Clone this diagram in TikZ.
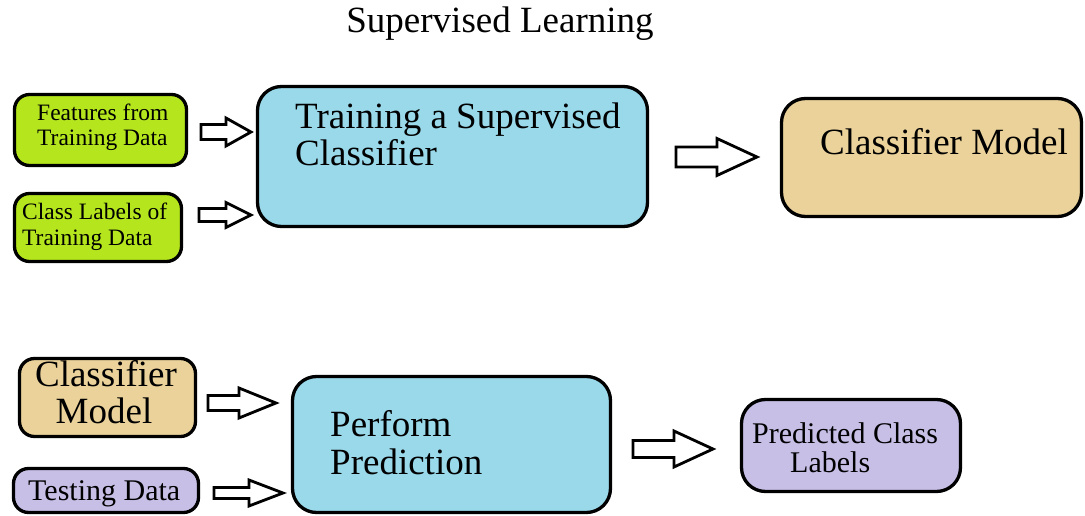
\documentclass[tikz,border=0pt]{standalone}
\usepackage{fontspec}
\setmainfont{Liberation Serif}
\usetikzlibrary{calc}

\definecolor{limefill}{HTML}{B5E61D}
\definecolor{skyfill}{HTML}{99D9EA}
\definecolor{tanfill}{HTML}{EAD29A}
\definecolor{lavfill}{HTML}{C8BFE7}

\tikzset{
  box/.style={draw=black, line width=3.3pt, inner sep=0pt},
  smallbox/.style={box, rounded corners=15pt},
  bigbox/.style={box, rounded corners=24pt},
  arrowline/.style={draw=black, fill=white, line width=2.8pt, line join=miter},
  bigtxt/.style={inner sep=0pt, font=\fontsize{37}{38}\selectfont},
  midtxt/.style={inner sep=0pt, font=\fontsize{30}{30}\selectfont},
  smalltxt/.style={inner sep=0pt, font=\fontsize{23.5}{24}\selectfont},
}

% hollow block arrow: start, end, shaft half-height, head half-height, head length
\newcommand{\fatarrow}[5]{%
  \draw[arrowline] let \p1=(#1), \p2=(#2) in
    (\x1,\y1+#3) -- (\x2-#5,\y1+#3) -- (\x2-#5,\y1+#4) -- (\x2,\y1)
    -- (\x2-#5,\y1-#4) -- (\x2-#5,\y1-#3) -- (\x1,\y1-#3) -- cycle;}

\begin{document}
\begin{tikzpicture}[x=1pt, y=-1pt]
\useasboundingbox (0,0) rectangle (1085,516);

% title
\node[bigtxt, anchor=base, font=\fontsize{37}{38}\selectfont] (title) at (500,33) {Supervised Learning};

% ---- training stage ----
\node[smallbox, fill=limefill, minimum width=172pt, minimum height=71pt] (feat) at (100.5,130) {};
\node[smalltxt, anchor=base west] (featA) at (37,121) {Features from};
\node[smalltxt, anchor=base west] (featB) at (37,146) {Training Data};

\node[smallbox, fill=limefill, minimum width=167pt, minimum height=68pt] (lab) at (98,227.5) {};
\node[smalltxt, anchor=base west] (labA) at (22,219) {Class Labels of};
\node[smalltxt, anchor=base west] (labB) at (22,245) {Training Data};

\node[bigbox, fill=skyfill, minimum width=390pt, minimum height=140pt] (train) at (452.5,156.5) {};
\node[bigtxt, anchor=base west] (trainA) at (295,129) {Training a Supervised};
\node[bigtxt, anchor=base west] (trainB) at (295,166) {Classifier};

\node[bigbox, fill=tanfill, minimum width=300pt, minimum height=118pt] (model) at (931.5,157.5) {};
\node[bigtxt, anchor=base west] (modelA) at (820,155) {Classifier Model};

% ---- prediction stage ----
\node[smallbox, fill=tanfill, minimum width=176pt, minimum height=78pt] (cm) at (107.5,397.5) {};
\node[bigtxt, anchor=base] (cmA) at (106,386) {Classifier};
\node[bigtxt, anchor=base] (cmB) at (104,423) {Model};

\node[smallbox, fill=lavfill, minimum width=185pt, minimum height=44pt] (test) at (106,490.5) {};
\node[midtxt, anchor=base west] (testA) at (28,500) {Testing Data};

\node[bigbox, fill=skyfill, minimum width=318pt, minimum height=136pt] (perf) at (451.5,444.5) {};
\node[bigtxt, anchor=base west] (perfA) at (330,436) {Perform};
\node[bigtxt, anchor=base west] (perfB) at (330,474) {Prediction};

\node[bigbox, fill=lavfill, minimum width=219pt, minimum height=92pt] (pred) at (851,445.5) {};
\node[midtxt, anchor=base west] (predA) at (752,443) {Predicted Class};
\node[midtxt, anchor=base west] (predB) at (790,472) {Labels};

% ---- arrow end points ----
\coordinate (a1s) at (201,132);  \coordinate (a1e) at (251,132);
\coordinate (a2s) at (199,215);  \coordinate (a2e) at (251,215);
\coordinate (a3s) at (676,157);  \coordinate (a3e) at (757,157);
\coordinate (a4s) at (208,403);  \coordinate (a4e) at (276,403);
\coordinate (a5s) at (214,493);  \coordinate (a5e) at (283,493);
\coordinate (a6s) at (633,449);  \coordinate (a6e) at (713,449);

\fatarrow{a1s}{a1e}{7.5pt}{14pt}{25pt}
\fatarrow{a2s}{a2e}{6.5pt}{12.5pt}{25pt}
\fatarrow{a3s}{a3e}{10pt}{18.5pt}{40pt}
\fatarrow{a4s}{a4e}{7.5pt}{15pt}{37pt}
\fatarrow{a5s}{a5e}{5.5pt}{13pt}{34pt}
\fatarrow{a6s}{a6e}{8.5pt}{18pt}{39pt}
\end{tikzpicture}
\end{document}
